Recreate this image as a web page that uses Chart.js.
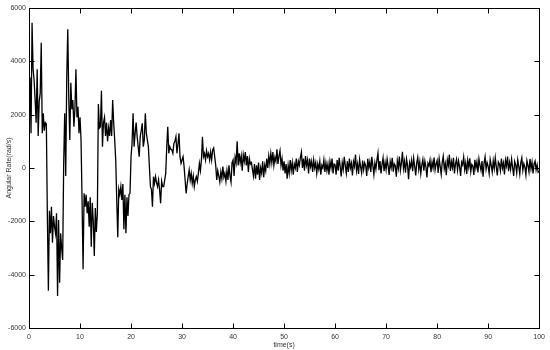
<!DOCTYPE html>
<html>
<head>
<meta charset="utf-8">
<script src="https://cdn.jsdelivr.net/npm/chart.js@4"></script>
<style>
html, body { margin: 0; padding: 0; background: #fff; }
</style>
</head>
<body>
<canvas id="rateChart" width="550" height="350"></canvas>
<script>
// angular rate samples (rad/s), every 0.2 s, one array per 10 s
const sampleStep = 0.2;
const seg00 = [1200, 3400, 1300, 5450, 3700, 3300, 2550, 1700, 3700, 1200,
               2500, 2800, 4700, 1300, 2050, 1400, 1700, 1650, -1800, -4600,
               -1600, -2450, -1450, -2800, -1800, -2200, -2450, -1700, -4800, -1950,
               -4300, -2450, -3000, -3450, 175, 2050, -300, 3400, 5200, 2550,
               1050, 3200, 2200, 2550, 1550, 2200, 3700, 1900, 2300, 1300];
const seg10 = [1900, 1050, -1200, -3800, -950, -1450, -1000, -1700, -1250, -2200,
               -1100, -2950, -1300, -2000, -3300, -1500, -2400, -1700, 2400, 1500,
               1550, 2900, 800, 1700, 1900, 1200, 1700, 1000, 1500, 1200,
               1800, 1200, 2550, 1700, 1050, 300, -1200, -2600, -800, -1000,
               -700, -1200, -600, -2300, -1000, -2450, -1100, -1800, -1000, -950];
const seg20 = [425, 925, 2050, 800, 1300, 1700, 1175, 800, 425, 1175,
               1400, 1675, 800, 1050, 2050, 1300, 1050, 800, 50, -700,
               -800, -1450, -325, -575, -325, -550, -700, -450, -825, -1325,
               -500, -700, -700, -450, -200, 800, 1550, 550, 800, 700,
               675, 550, 925, 1000, 1175, 550, 900, 1300, 425, 175];
const seg30 = [300, 425, 50, -450, -950, -600, -325, -75, -450, -200,
               -575, -300, -700, -450, -325, -500, -200, 175, -100, 300,
               1175, 425, 550, 300, 650, 425, 550, 300, 600, 300,
               675, 750, 425, 100, -450, -100, -300, -525, -150, -400,
               50, -350, -200, -500, -100, -450, 100, -300, -525, 200];
const seg40 = [300, -300, 400, 200, 1000, 100, 550, 200, 450, -100,
               500, 250, 600, 100, 450, -150, 350, 150, 200, -50,
               -300, 150, -400, 100, -250, 200, -450, 0, -200, 250,
               -350, 100, -100, 350, 0, 450, 150, 550, 200, 600,
               100, 400, 250, 700, 150, 450, 650, 100, 350, -100];
const seg50 = [250, -200, 150, -400, 100, -200, 300, -100, 200, -250,
               150, 0, 350, -150, 250, 100, 400, 600, 0, 350,
               -100, 450, 100, 300, -200, 350, 50, 250, -150, 300,
               0, 200, -200, 150, -50, 250, -250, 100, 0, 300,
               -150, 200, -100, 150, -250, 250, 0, 350, -200, 150];
const seg60 = [120, -250, 300, -100, 380, 50, -320, 200, -50, 420,
               80, -200, 260, -150, 350, 0, 180, -280, 240, 60,
               500, -100, 150, -220, 320, 40, -180, 280, -60, 200,
               90, -300, 350, 10, 230, -150, 420, 100, -240, 190,
               -40, 300, 560, -80, 260, -200, 140, 380, -120, 210];
const seg70 = [-60, 330, 70, -260, 240, 20, 380, -140, 160, 90,
               -330, 270, 0, 430, -90, 180, 610, -20, 250, -180,
               340, 110, -420, 200, 30, 290, -120, 360, 60, -280,
               190, 400, -50, 230, -210, 120, 320, -100, 260, 40,
               -350, 180, 80, 300, -160, 220, 0, 390, -70, 150];
const seg80 = [280, -190, 350, 60, -240, 210, 440, -30, 170, -270,
               300, 90, 500, -110, 240, 20, 380, -200, 160, 330,
               -80, 270, 50, -300, 220, 120, 410, -60, 190, -220,
               290, 30, 360, -140, 140, 80, -260, 310, 0, 230,
               -170, 340, 100, -90, 260, -330, 180, 420, -40, 200];
const seg90 = [60, -210, 320, 110, -150, 270, -20, 380, 40, -280,
               230, 150, -100, 350, 0, 190, -240, 290, 80, 430,
               -120, 210, -50, 330, 20, -300, 250, 120, -180, 310,
               70, -230, 200, 380, -90, 160, 30, -260, 280, 100,
               -140, 340, -30, 220, -200, 150, 260, -70, 120, -160, -120];
const segStarts = [0, 10, 20, 30, 40, 50, 60, 70, 80, 90];

const xTicks = [0, 10, 20, 30, 40, 50, 60, 70, 80, 90, 100];
const yTicks = [-6000, -4000, -2000, 0, 2000, 4000, 6000];

const points = [];
[seg00, seg10, seg20, seg30, seg40, seg50, seg60, seg70, seg80, seg90].forEach((seg, i) => {
    seg.forEach((v, j) => {
        points.push({ x: +(segStarts[i] + j * sampleStep).toFixed(1), y: v });
    });
});

// matlab style box with inward ticks on all four sides
const tickLen = 5;
const matlabFrame = {
    id: 'matlabFrame',
    afterDatasetsDraw(chart) {
        const { ctx, chartArea: a, scales: { x, y } } = chart;
        ctx.save();
        ctx.strokeStyle = '#000';
        ctx.lineWidth = 1;
        const l = Math.round(a.left) + 0.5, r = Math.round(a.right) + 0.5;
        const t = Math.round(a.top) + 0.5, b = Math.round(a.bottom) + 0.5;
        ctx.strokeRect(l, t, r - l, b - t);
        ctx.beginPath();
        xTicks.forEach(v => {
            const px = Math.round(x.getPixelForValue(v)) + 0.5;
            ctx.moveTo(px, b); ctx.lineTo(px, b - tickLen);
            ctx.moveTo(px, t); ctx.lineTo(px, t + tickLen);
        });
        yTicks.forEach(v => {
            const py = Math.round(y.getPixelForValue(v)) + 0.5;
            ctx.moveTo(l, py); ctx.lineTo(l + tickLen, py);
            ctx.moveTo(r, py); ctx.lineTo(r - tickLen, py);
        });
        ctx.stroke();
        ctx.restore();
    }
};

const font = { family: '"Liberation Sans", Arial, sans-serif', size: 7 };

new Chart(document.getElementById('rateChart').getContext('2d'), {
    type: 'line',
    data: {
        datasets: [{
            data: points,
            borderColor: '#000',
            borderWidth: 1.3,
            pointRadius: 0,
            tension: 0,
            fill: false
        }]
    },
    options: {
        responsive: false,
        animation: false,
        layout: { padding: { top: 8, right: 9, left: 0, bottom: 0 } },
        plugins: { legend: { display: false }, tooltip: { enabled: false } },
        scales: {
            x: {
                type: 'linear',
                min: 0,
                max: 100,
                afterFit(scale) { scale.height = 22; },
                afterBuildTicks(scale) { scale.ticks = xTicks.map(v => ({ value: v })); },
                grid: { display: false, drawTicks: false },
                border: { display: false },
                ticks: { font, color: '#333', padding: 5, maxRotation: 0, autoSkip: false,
                         callback: v => String(v) },
                title: { display: true, text: 'time(s)', font, color: '#333',
                         padding: { top: 0, bottom: 1 } }
            },
            y: {
                min: -6000,
                max: 6000,
                afterFit(scale) { scale.width = 29; },
                afterBuildTicks(scale) { scale.ticks = yTicks.map(v => ({ value: v })); },
                grid: { display: false, drawTicks: false },
                border: { display: false },
                ticks: { font, color: '#333', padding: 3, callback: v => String(v) },
                title: { display: true, text: 'Angular Rate(rad/s)', font, color: '#333',
                         padding: { top: 5, bottom: 0 } }
            }
        }
    },
    plugins: [matlabFrame]
});
</script>
</body>
</html>
